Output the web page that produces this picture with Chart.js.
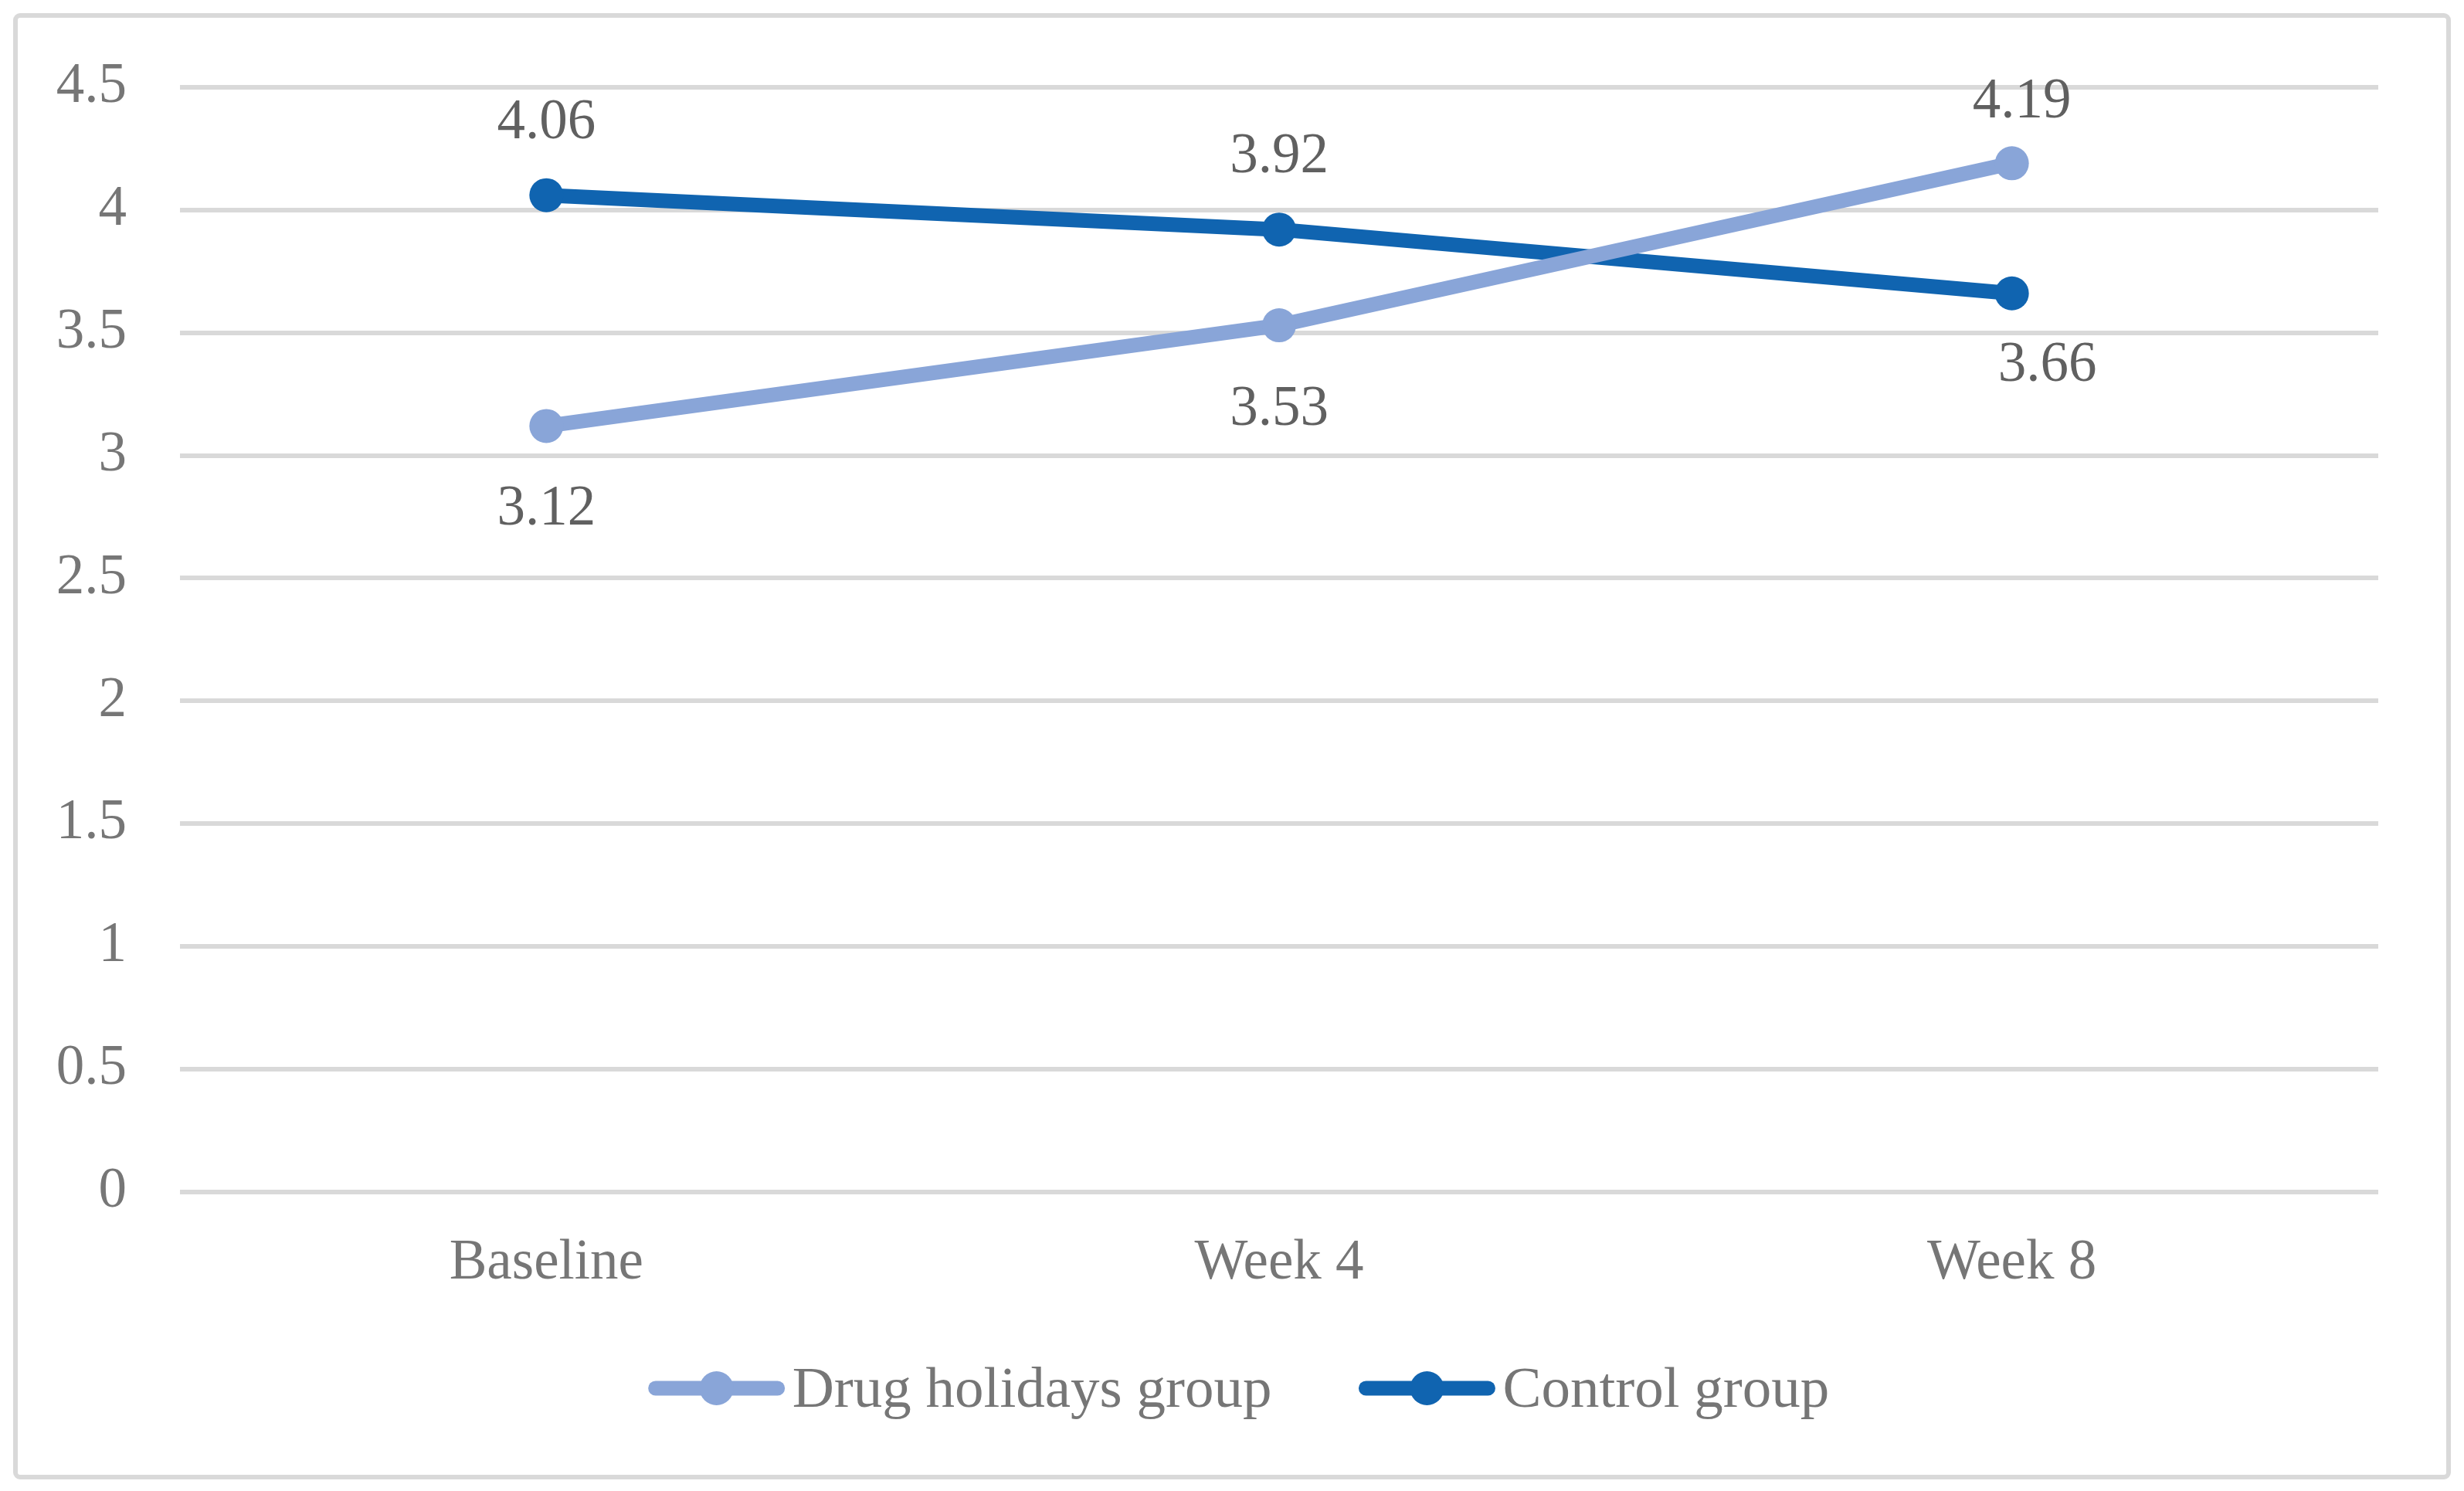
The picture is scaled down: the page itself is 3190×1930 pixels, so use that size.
<!DOCTYPE html>
<html><head><meta charset="utf-8">
<script src="https://cdn.jsdelivr.net/npm/chart.js@4"></script>
<style>html,body{margin:0;padding:0;background:#fff}canvas{display:block}</style>
</head><body>
<canvas id="c" width="3190" height="1930" style="width:3190px;height:1930px"></canvas>
<script>
// ---- data ----
const categories = ['Baseline', 'Week 4', 'Week 8'];
const seriesNames = ['Drug holidays group', 'Control group'];
const drugHolidaysValues = [3.12, 3.53, 4.19];
const controlValues = [4.06, 3.92, 3.66];
const yMin = 0, yMax = 4.5, yStep = 0.5;

// ---- style ----
const FONT = '"Liberation Serif", "Times New Roman", serif';
const colorLight = '#89a5d8';
const colorDark = '#1064b0';
const tickColor = '#767676';
const labelColor = '#606060';
const gridColor = '#d9d9d9';

// label placement per dataset (style only)
const labelNudges = [
  [{dx: 0, dy: 103}, {dx: 0, dy: 104}, {dx: 13, dy: -84}],
  [{dx: 0, dy: -98}, {dx: 0, dy: -99}, {dx: 46, dy: 89}]
];

const framePlugin = {
  id: 'frame',
  beforeDraw(chart) {
    const ctx = chart.ctx;
    ctx.save();
    ctx.fillStyle = '#fff';
    ctx.fillRect(0, 0, chart.width, chart.height);
    ctx.strokeStyle = gridColor;
    ctx.lineWidth = 6;
    ctx.beginPath();
    ctx.roundRect(20, 20, 3150, 1892, 6);
    ctx.stroke();
    ctx.restore();
  }
};

const dataLabelPlugin = {
  id: 'valueLabels',
  afterDatasetsDraw(chart) {
    const ctx = chart.ctx;
    const fs = 73;
    ctx.save();
    ctx.font = fs + 'px ' + FONT;
    ctx.fillStyle = labelColor;
    ctx.textAlign = 'center';
    ctx.textBaseline = 'alphabetic';
    chart.data.datasets.forEach((ds, di) => {
      const meta = chart.getDatasetMeta(di);
      meta.data.forEach((pt, i) => {
        const n = labelNudges[di][i];
        const cy = pt.y + n.dy;
        ctx.fillText(String(ds.data[i]), pt.x + n.dx, cy + 0.338 * fs);
      });
    });
    ctx.restore();
  }
};

const legendPlugin = {
  id: 'customLegend',
  afterDraw(chart) {
    const ctx = chart.ctx;
    const fs = 75;
    ctx.save();
    ctx.font = fs + 'px ' + FONT;
    const lineLen = 176, gapText = 10, gapItems = 113;
    const items = chart.data.datasets.map(ds => ({
      text: ds.label, color: ds.borderColor, w: ctx.measureText(ds.label).width
    }));
    let total = 0;
    items.forEach((it, i) => { total += lineLen + gapText + it.w + (i ? gapItems : 0); });
    let x = 1604 - total / 2;
    const yc = 1797;
    items.forEach((it, i) => {
      if (i) x += gapItems;
      ctx.strokeStyle = it.color;
      ctx.lineWidth = 19;
      ctx.lineCap = 'round';
      ctx.beginPath();
      ctx.moveTo(x + 9, yc);
      ctx.lineTo(x + lineLen - 9, yc);
      ctx.stroke();
      ctx.fillStyle = it.color;
      ctx.beginPath();
      ctx.arc(x + lineLen / 2, yc, 22, 0, Math.PI * 2);
      ctx.fill();
      x += lineLen + gapText;
      ctx.fillStyle = tickColor;
      ctx.textAlign = 'left';
      ctx.textBaseline = 'alphabetic';
      ctx.fillText(it.text, x, yc + 24);
      x += it.w;
    });
    ctx.restore();
  }
};

new Chart(document.getElementById('c'), {
  type: 'line',
  data: {
    labels: categories,
    datasets: [
      {
        label: seriesNames[0], data: drugHolidaysValues,
        borderColor: colorLight, backgroundColor: colorLight,
        pointBackgroundColor: colorLight, pointBorderWidth: 0,
        pointRadius: 22, pointHoverRadius: 22, borderWidth: 19,
        tension: 0, fill: false, clip: false, borderCapStyle: 'round'
      },
      {
        label: seriesNames[1], data: controlValues,
        borderColor: colorDark, backgroundColor: colorDark,
        pointBackgroundColor: colorDark, pointBorderWidth: 0,
        pointRadius: 22, pointHoverRadius: 22, borderWidth: 19,
        tension: 0, fill: false, clip: false, borderCapStyle: 'round'
      }
    ]
  },
  options: {
    responsive: false,
    devicePixelRatio: 1,
    animation: false,
    events: [],
    layout: { padding: { left: 0, top: 112, right: 111, bottom: 237 } },
    plugins: { legend: { display: false }, tooltip: { enabled: false } },
    scales: {
      x: {
        offset: true,
        grid: { display: false, drawTicks: false },
        border: { display: false },
        ticks: { color: tickColor, font: { family: FONT, size: 73 }, padding: 49, maxRotation: 0 },
        afterFit(s) { s.height = 150; }
      },
      y: {
        min: yMin, max: yMax,
        grid: { color: gridColor, lineWidth: 6, drawTicks: false },
        border: { display: false },
        ticks: {
          stepSize: yStep, color: tickColor, font: { family: FONT, size: 73 }, padding: 69,
          callback: (v) => String(v)
        },
        afterFit(s) { s.width = 233; }
      }
    }
  },
  plugins: [framePlugin, dataLabelPlugin, legendPlugin]
});
</script>
</body></html>
